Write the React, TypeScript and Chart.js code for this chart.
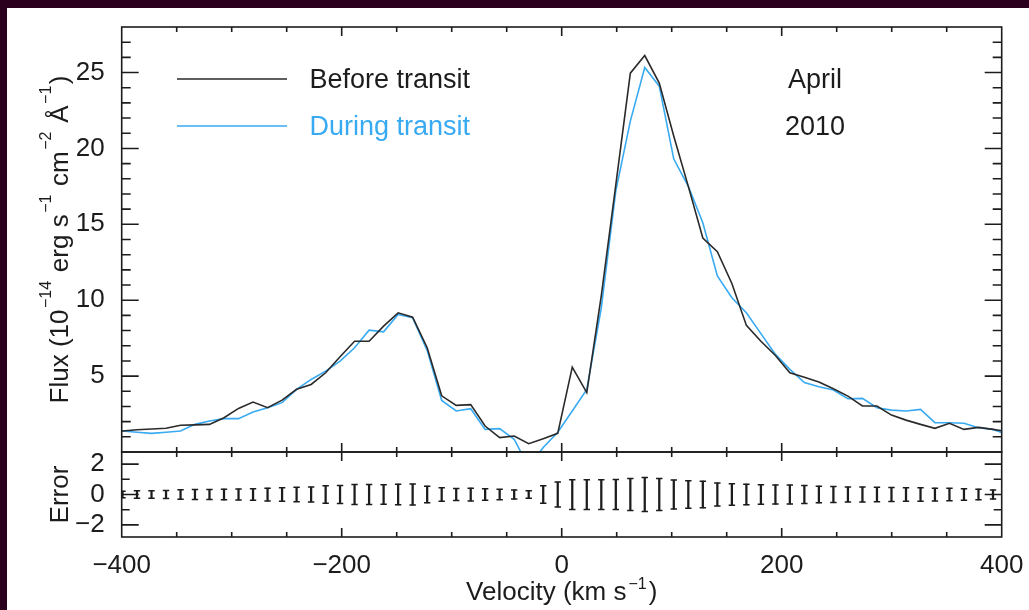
import React, { useEffect, useRef } from 'react';
import { Chart, registerables } from 'chart.js';

Chart.register(...registerables);

// Velocity grid of the spectrum (km/s); first and last points lie just outside the plotted range
const velocity = [
  -412.5, -399.3, -386.1, -372.9, -359.7, -346.5, -333.4, -320.2, -307.0, -293.8,
  -280.6, -267.4, -254.2, -241.0, -227.8, -214.6, -201.5, -188.3, -175.1, -161.9,
  -148.7, -135.5, -122.3, -109.1, -95.9, -82.7, -69.6, -56.4, -43.2, -30.0,
  -16.8, -3.6, 9.6, 22.8, 36.0, 49.2, 62.4, 75.5, 88.7, 101.9,
  115.1, 128.3, 141.5, 154.7, 167.9, 181.1, 194.3, 207.4, 220.6, 233.8,
  247.0, 260.2, 273.4, 286.6, 299.8, 313.0, 326.2, 339.3, 352.5, 365.7,
  378.9, 392.1, 405.3,
];

// Flux in units of 1e-14 erg s^-1 cm^-2 A^-1
const fluxBefore = [
  1.33, 1.38, 1.47, 1.52, 1.56, 1.76, 1.79, 1.82, 2.26, 2.87,
  3.29, 2.92, 3.42, 4.13, 4.45, 5.22, 6.28, 7.30, 7.30, 8.29,
  9.17, 8.88, 6.87, 3.70, 3.07, 3.12, 1.71, 0.95, 1.05, 0.55,
  0.88, 1.23, 5.59, 3.91, 10.3, 17.6, 24.96, 26.12, 24.3, 20.8,
  17.5, 14.1, 13.2, 11.1, 8.34, 7.30, 6.36, 5.22, 4.93, 4.61,
  4.17, 3.68, 3.03, 3.03, 2.43, 2.10, 1.82, 1.56, 1.89, 1.49,
  1.62, 1.49, 1.35,
];

const fluxDuring = [
  1.40, 1.38, 1.30, 1.23, 1.30, 1.38, 1.82, 2.04, 2.20, 2.20,
  2.63, 2.92, 3.25, 4.13, 4.78, 5.33, 5.99, 6.87, 8.03, 7.92,
  9.06, 8.84, 6.70, 3.40, 2.70, 2.85, 1.49, 1.54, 0.84, -1.0,
  0.30, 1.30, 2.70, 4.12, 9.5, 17.2, 21.8, 25.33, 24.1, 19.3,
  17.5, 15.1, 11.6, 10.16, 9.17, 7.8, 6.43, 5.44, 4.57, 4.30,
  4.08, 3.51, 3.53, 2.92, 2.76, 2.70, 2.81, 1.93, 1.93, 1.89,
  1.60, 1.49, 1.15,
];

// 1-sigma flux uncertainty for each bin inside the plotted range
const errorSize = [
  0.22, 0.25, 0.24, 0.27, 0.31, 0.33, 0.33, 0.35, 0.36, 0.38,
  0.42, 0.44, 0.47, 0.49, 0.57, 0.60, 0.66, 0.66, 0.64, 0.68,
  0.69, 0.55, 0.44, 0.39, 0.42, 0.38, 0.34, 0.30, 0.24, 0.57,
  0.82, 0.98, 0.98, 0.98, 0.99, 1.06, 1.12, 1.06, 0.95, 0.90,
  0.88, 0.75, 0.71, 0.68, 0.64, 0.63, 0.62, 0.60, 0.55, 0.53,
  0.49, 0.49, 0.47, 0.46, 0.44, 0.44, 0.42, 0.41, 0.38, 0.35,
  0.30,
];

const xTicks = [-400, -200, 0, 200, 400];
const xTickLabels = ['\u2212400', '\u2212200', '0', '200', '400'];
const fluxTicks = [5, 10, 15, 20, 25];
const fluxTickLabels = ['5', '10', '15', '20', '25'];
const errorTicks = [-2, 0, 2];
const errorTickLabels = ['\u22122', '0', '2'];

const seriesNames = ['Before transit', 'During transit'];
const noteLines = ['April', '2010'];

const FONT = '"Liberation Sans", Arial, Helvetica, sans-serif';
const INK = '#1c1c1c';
const BLACK_LINE = '#2a2a2a';
const BLUE = '#38aaf2';
const PAGE_BG = '#2b001f';

const CANVAS_W = 1022;
const CANVAS_H = 602;
const PAD_TOP = 19;
const PAD_RIGHT = 27.3;
const AXIS_W = 114.7;
const MAIN_WEIGHT = 5;
const ERR_WEIGHT = 1;
const AREA_H = 510; // chart area height (both panels)

const errorVelocity = velocity.slice(1, velocity.length - 1);

type Seg = { text: string; sup?: boolean };

function drawRich(
  ctx: CanvasRenderingContext2D,
  segs: Seg[],
  cx: number,
  baseline: number,
  size: number,
  supSize: number,
  raise: number,
  supGap: number,
) {
  const widths = segs.map((s) => {
    ctx.font = `${s.sup ? supSize : size}px ${FONT}`;
    return ctx.measureText(s.text).width + (s.sup ? 2 * supGap : 0);
  });
  const total = widths.reduce((a, b) => a + b, 0);
  let x = cx - total / 2;
  ctx.textAlign = 'left';
  ctx.textBaseline = 'alphabetic';
  segs.forEach((s, i) => {
    ctx.font = `${s.sup ? supSize : size}px ${FONT}`;
    if (s.sup) ctx.fillText(s.text, x + supGap, baseline - raise);
    else ctx.fillText(s.text, x, baseline);
    x += widths[i];
  });
}

// Box frames with inward-pointing major/minor ticks on all four sides of each panel
const framePlugin = {
  id: 'frameTicks',
  afterDatasetsDraw(chart: any) {
    const { ctx } = chart;
    const xs = chart.scales.x;
    const L = chart.chartArea.left;
    const R = chart.chartArea.right;
    const panels = [
      { s: chart.scales.y, step: 1, major: 5, majLen: 17, minLen: 9 },
      { s: chart.scales.yErr, step: 1, major: 2, majLen: 17, minLen: 8 },
    ];
    ctx.save();
    ctx.strokeStyle = INK;
    ctx.lineWidth = 1.6;
    ctx.lineCap = 'butt';
    for (const p of panels) {
      const T = p.s.top;
      const B = p.s.bottom;
      ctx.strokeRect(L, T, R - L, B - T);
      ctx.beginPath();
      for (let v = -350; v < 400; v += 50) {
        const px = xs.getPixelForValue(v);
        const len = v % 200 === 0 ? 9 : 5;
        ctx.moveTo(px, B);
        ctx.lineTo(px, B - len);
        ctx.moveTo(px, T);
        ctx.lineTo(px, T + len);
      }
      const lo = Math.floor(p.s.min) + 1;
      for (let v = lo; v < p.s.max; v += p.step) {
        const py = p.s.getPixelForValue(v);
        const len = v % p.major === 0 ? p.majLen : p.minLen;
        ctx.moveTo(L, py);
        ctx.lineTo(L + len, py);
        ctx.moveTo(R, py);
        ctx.lineTo(R - len, py);
      }
      ctx.stroke();
    }
    ctx.restore();
  },
};

// Axis titles, legend and date annotation
const textPlugin = {
  id: 'annotations',
  afterDraw(chart: any) {
    const { ctx } = chart;
    const ys = chart.scales.y;
    const ye = chart.scales.yErr;
    const L = chart.chartArea.left;
    const R = chart.chartArea.right;
    const T = chart.chartArea.top;
    ctx.save();
    ctx.fillStyle = INK;

    // x title
    drawRich(
      ctx,
      [{ text: 'Velocity (km s' }, { text: '\u22121', sup: true }, { text: ')' }],
      (L + R) / 2,
      592,
      26,
      16,
      11,
      2,
    );

    // y titles (rotated)
    const titleX = 61.3;
    ctx.save();
    ctx.translate(titleX, (ys.top + ys.bottom) / 2);
    ctx.rotate(-Math.PI / 2);
    drawRich(
      ctx,
      [
        { text: 'Flux (10' },
        { text: '\u221214', sup: true },
        { text: ' erg s' },
        { text: '\u22121', sup: true },
        { text: ' cm' },
        { text: '\u22122', sup: true },
        { text: ' \u00c5' },
        { text: '\u22121', sup: true },
        { text: ')' },
      ],
      0,
      0,
      26,
      16,
      17,
      1.5,
    );
    ctx.restore();
    ctx.save();
    ctx.translate(titleX, (ye.top + ye.bottom) / 2);
    ctx.rotate(-Math.PI / 2);
    drawRich(ctx, [{ text: 'Error' }], 0, 0, 26, 16, 0, 0);
    ctx.restore();

    // legend
    const legendRows = [
      { color: BLACK_LINE, textColor: INK, dy: 52 },
      { color: BLUE, textColor: BLUE, dy: 99 },
    ];
    ctx.lineWidth = 1.6;
    legendRows.forEach((row, i) => {
      ctx.strokeStyle = row.color;
      ctx.beginPath();
      ctx.moveTo(L + 55.3, T + row.dy);
      ctx.lineTo(L + 165.3, T + row.dy);
      ctx.stroke();
      ctx.fillStyle = row.textColor;
      ctx.font = `27px ${FONT}`;
      ctx.textAlign = 'left';
      ctx.textBaseline = 'alphabetic';
      ctx.fillText(seriesNames[i], L + 187.8, T + row.dy + 9);
    });

    ctx.fillStyle = INK;
    ctx.textAlign = 'center';
    ctx.fillText(noteLines[0], L + 693.3, T + 61);
    ctx.fillText(noteLines[1], L + 693.3, T + 108);
    ctx.restore();
  },
};

// Tick labels should not enlarge the layout; the frame position is fixed by padding
const noLabelPadding = (s: any) => {
  s.paddingTop = 0;
  s.paddingBottom = 0;
  s.paddingLeft = 0;
  s.paddingRight = 0;
};

export default function App() {
  const canvasRef = useRef<HTMLCanvasElement | null>(null);

  useEffect(() => {
    if (!canvasRef.current) return;
    const tickFont = { family: FONT, size: 26 };
    // the dataset area is the upper panel itself, so no overflow is allowed
    const mainClip = { left: 0, top: 0, right: 0, bottom: 0 };

    const chart = new Chart(canvasRef.current, {
      type: 'line',
      data: {
        datasets: [
          {
            type: 'line',
            label: seriesNames[1],
            data: velocity.map((v, i) => ({ x: v, y: fluxDuring[i] })),
            yAxisID: 'y',
            borderColor: BLUE,
            borderWidth: 1.6,
            pointRadius: 0,
            tension: 0,
            clip: mainClip,
            order: 2,
          },
          {
            type: 'line',
            label: seriesNames[0],
            data: velocity.map((v, i) => ({ x: v, y: fluxBefore[i] })),
            yAxisID: 'y',
            borderColor: BLACK_LINE,
            borderWidth: 1.6,
            pointRadius: 0,
            tension: 0,
            clip: mainClip,
            order: 1,
          },
          {
            type: 'bar',
            label: 'error',
            data: errorVelocity.map((v, i) => ({ x: v, y: [-errorSize[i], errorSize[i]] })),
            yAxisID: 'yErr',
            backgroundColor: INK,
            borderWidth: 0,
            barThickness: 1.6,
            grouped: false,
            order: 3,
          } as any,
          {
            type: 'line',
            label: 'error cap +',
            data: errorVelocity.map((v, i) => ({ x: v, y: errorSize[i] })),
            yAxisID: 'yErr',
            showLine: false,
            pointStyle: 'line',
            pointRadius: 3.2,
            pointBorderWidth: 1.5,
            pointBorderColor: INK,
            order: 3,
          },
          {
            type: 'line',
            label: 'error cap -',
            data: errorVelocity.map((v, i) => ({ x: v, y: -errorSize[i] })),
            yAxisID: 'yErr',
            showLine: false,
            pointStyle: 'line',
            pointRadius: 3.2,
            pointBorderWidth: 1.5,
            pointBorderColor: INK,
            order: 3,
          },
        ],
      },
      options: {
        responsive: false,
        animation: false,
        events: [],
        layout: {
          autoPadding: false,
          padding: { left: 0, right: PAD_RIGHT, top: PAD_TOP, bottom: 0 },
        },
        plugins: {
          legend: { display: false },
          tooltip: { enabled: false },
          title: { display: false },
        },
        scales: {
          x: {
            type: 'linear',
            position: 'bottom',
            min: -400,
            max: 400,
            offset: false,
            grid: { display: false },
            border: { display: false },
            afterBuildTicks: (s: any) => {
              s.ticks = xTicks.map((v) => ({ value: v }));
            },
            afterFit: (s: any) => {
              s.height = CANVAS_H - PAD_TOP - AREA_H;
              noLabelPadding(s);
            },
            ticks: {
              autoSkip: false,
              maxRotation: 0,
              minRotation: 0,
              padding: 5,
              color: INK,
              font: tickFont,
              callback: (v: any) => xTickLabels[xTicks.indexOf(Number(v))],
            },
          },
          y: {
            type: 'linear',
            position: 'left',
            stack: 'panels',
            stackWeight: MAIN_WEIGHT,
            weight: 1,
            min: 0,
            max: 28,
            grid: { display: false },
            border: { display: false },
            afterBuildTicks: (s: any) => {
              s.ticks = fluxTicks.map((v) => ({ value: v }));
            },
            afterFit: (s: any) => {
              s.width = AXIS_W;
              noLabelPadding(s);
            },
            ticks: {
              autoSkip: false,
              padding: 9,
              color: INK,
              font: tickFont,
              callback: (v: any) => fluxTickLabels[fluxTicks.indexOf(Number(v))],
            },
          },
          yErr: {
            type: 'linear',
            position: 'left',
            stack: 'panels',
            stackWeight: ERR_WEIGHT,
            weight: 0,
            min: -2.8,
            max: 2.8,
            grid: { display: false },
            border: { display: false },
            afterBuildTicks: (s: any) => {
              s.ticks = errorTicks.map((v) => ({ value: v }));
            },
            afterFit: (s: any) => {
              s.width = AXIS_W;
              noLabelPadding(s);
            },
            ticks: {
              autoSkip: false,
              padding: 9,
              color: INK,
              font: tickFont,
              callback: (v: any) => errorTickLabels[errorTicks.indexOf(Number(v))],
            },
          },
        },
      } as any,
      plugins: [framePlugin, textPlugin],
    });

    return () => {
      chart.destroy();
    };
  }, []);

  return (
    <div
      style={{
        position: 'fixed',
        inset: 0,
        background: PAGE_BG,
        paddingLeft: 7,
        paddingTop: 8,
        overflow: 'hidden',
      }}
    >
      <canvas
        ref={canvasRef}
        width={CANVAS_W}
        height={CANVAS_H}
        style={{ display: 'block', background: '#ffffff' }}
      />
    </div>
  );
}
